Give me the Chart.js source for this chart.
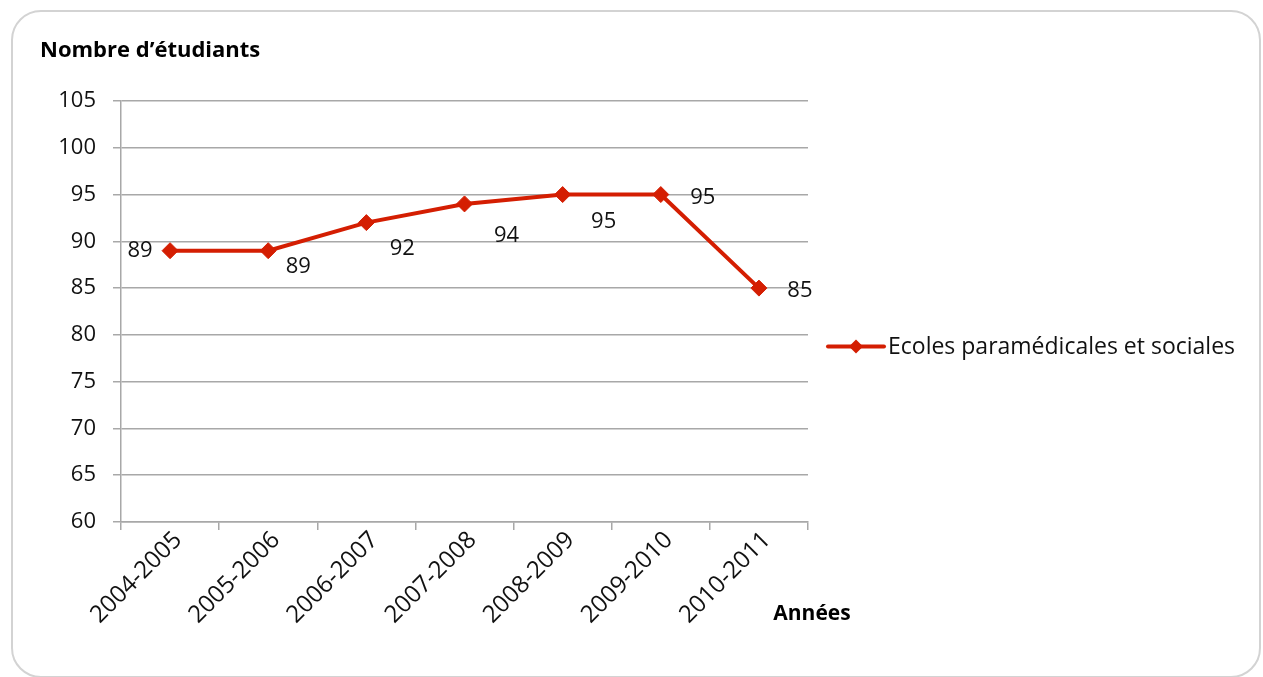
<!DOCTYPE html>
<html><head><meta charset="utf-8">
<script src="https://cdn.jsdelivr.net/npm/chart.js@4.4.0/dist/chart.umd.min.js"></script>
<style>
html,body{margin:0;padding:0;background:#fff;overflow:hidden;width:1263px;height:677px}
#frame{position:absolute;left:11px;top:10px;width:1250px;height:668px;border:2px solid #d3d3d3;border-radius:30px;box-sizing:border-box}
#wrap{position:absolute;left:0;top:0;width:1263px;height:677px}
</style></head>
<body><div id="frame"></div><div id="wrap"><canvas id="c" width="1263" height="677"></canvas></div>
<script>
const categories = ['2004-2005','2005-2006','2006-2007','2007-2008','2008-2009','2009-2010','2010-2011'];
const values = [89, 89, 92, 94, 95, 95, 85];
const seriesName = 'Ecoles paramédicales et sociales';
const yMin = 60, yMax = 105, yStep = 5;
const yAxisTitle = 'Nombre d’étudiants';
const xAxisTitle = 'Années';

const FONT = "'Open Sans', 'DejaVu Sans', sans-serif";
const RED = '#d41e02';
const GRID = '#a8a8a8';

const extras = {
  id: 'extras',
  afterDraw(chart, args, opts) {
    const ctx = chart.ctx;
    const area = chart.chartArea;
    const meta = chart.getDatasetMeta(0);
    ctx.save();
    // data labels
    ctx.font = '22px ' + FONT;
    ctx.fillStyle = '#111';
    ctx.textAlign = 'center';
    ctx.textBaseline = 'middle';
    meta.data.forEach((pt, i) => {
      const off = opts.labelOffsets[i] || [0, 0];
      ctx.fillText(String(chart.data.datasets[0].data[i]), pt.x + off[0], pt.y + off[1]);
    });
    // x axis title
    ctx.font = 'bold 21px ' + FONT;
    ctx.fillStyle = '#000';
    ctx.fillText(opts.xTitle, area.right + 4, area.bottom + 92);
    // legend
    const ds = chart.data.datasets[0];
    const ly = (area.top + area.bottom) / 2 + 35;
    const lx0 = area.right + 20, lx1 = area.right + 76;
    ctx.strokeStyle = ds.borderColor;
    ctx.lineWidth = ds.borderWidth;
    ctx.lineCap = 'round';
    ctx.beginPath(); ctx.moveTo(lx0, ly); ctx.lineTo(lx1, ly); ctx.stroke();
    const cx = (lx0 + lx1) / 2, r = 7;
    ctx.fillStyle = ds.borderColor;
    ctx.beginPath();
    ctx.moveTo(cx, ly - r); ctx.lineTo(cx + r, ly); ctx.lineTo(cx, ly + r); ctx.lineTo(cx - r, ly); ctx.closePath();
    ctx.fill();
    ctx.font = '23px ' + FONT;
    ctx.fillStyle = '#111';
    ctx.textAlign = 'left';
    ctx.fillText(ds.label, lx1 + 4, ly + 1);
    ctx.restore();
  }
};

new Chart(document.getElementById('c'), {
  type: 'line',
  data: {
    labels: categories,
    datasets: [{
      label: seriesName,
      data: values,
      borderColor: RED,
      backgroundColor: RED,
      borderWidth: 4,
      pointStyle: 'rectRot',
      pointRadius: 8,
      pointHoverRadius: 8,
      pointBorderWidth: 1,
      pointBackgroundColor: RED,
      pointBorderColor: RED,
      tension: 0,
      clip: false
    }]
  },
  options: {
    responsive: false,
    animation: false,
    devicePixelRatio: 1,
    layout: { padding: { left: 40, right: 455, top: 0, bottom: 0 } },
    plugins: {
      legend: { display: false },
      tooltip: { enabled: false },
      title: {
        display: true,
        text: yAxisTitle,
        align: 'start',
        color: '#000',
        font: { family: FONT, size: 22, weight: 'bold' },
        padding: { top: 38, bottom: 36.6 }
      },
      extras: {
        labelOffsets: [[-30, 0], [30, 16], [36, 26], [42, 32], [41, 27], [42, 3], [41, 3]],
        xTitle: xAxisTitle
      }
    },
    scales: {
      x: {
        offset: true,
        grid: { display: true, offset: true, drawOnChartArea: false, drawTicks: true, tickLength: 8, color: GRID, lineWidth: 1.5 },
        border: { color: GRID, width: 1.5 },
        ticks: { minRotation: 45, maxRotation: 45, color: '#111', font: { family: FONT, size: 24 }, padding: -4, labelOffset: 8 },
        afterFit: s => { s.height = 155; }
      },
      y: {
        min: yMin, max: yMax,
        grid: { color: GRID, lineWidth: 1.5, tickLength: 8 },
        border: { color: GRID, width: 1.5 },
        ticks: { stepSize: yStep, color: '#111', font: { family: FONT, size: 22 }, padding: 17 },
        afterFit: s => { s.width = 81; }
      }
    }
  },
  plugins: [extras]
});
</script>
</body></html>
